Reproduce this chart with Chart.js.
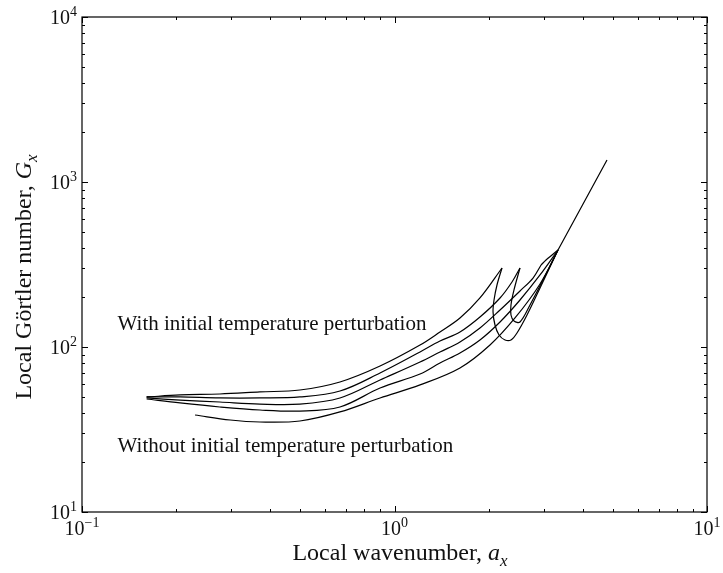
<!DOCTYPE html>
<html><head><meta charset="utf-8">
<script src="https://cdn.jsdelivr.net/npm/chart.js@4.4.0/dist/chart.umd.min.js"></script>
<style>html,body{margin:0;padding:0;background:#fff;}#wrap{width:723px;height:573px;}</style>
</head><body><div id="wrap"><canvas id="c" width="723" height="573"></canvas></div>
<script>
// ---- tick labels / titles ----
const xTickValues = [0.1, 1, 10];
const xTickExponents = ['\u22121', '0', '1'];
const yTickValues = [10, 100, 1000, 10000];
const yTickExponents = ['1', '2', '3', '4'];
const xTitleText = 'Local wavenumber, ';
const xTitleVar = 'a';
const xTitleSub = 'x';
const yTitleText = 'Local G\u00f6rtler number, ';
const yTitleVar = 'G';
const yTitleSub = 'x';
const labelWith = 'With initial temperature perturbation';
const labelWithout = 'Without initial temperature perturbation';
const labelWithPos = [0.130, 136];
const labelWithoutPos = [0.130, 24.8];

// ---- curve data (a_x, G_x) ----
const c1Up_a = [0.161, 0.206, 0.276, 0.371, 0.498, 0.669, 0.899, 1.207, 1.398, 1.620, 1.877, 2.208];
const c1Up_G = [49.8, 51.2, 51.9, 53.4, 54.9, 61.4, 76.7, 102.8, 123.3, 149.9, 198.2, 301.2];
const c1Loop_a = [2.208, 2.128, 2.082, 2.067, 2.097, 2.160, 2.258, 2.359, 2.466, 2.655, 2.922, 3.336];
const c1Loop_G = [301.2, 237.6, 192.7, 163.0, 135.9, 118.2, 110.3, 110.3, 121.6, 156.3, 227.9, 387.1];
const c2Up_a = [0.161, 0.206, 0.276, 0.371, 0.498, 0.669, 0.899, 1.207, 1.398, 1.620, 1.877, 2.176, 2.377, 2.521];
const c2Up_G = [49.8, 49.8, 49.1, 49.1, 49.8, 54.1, 69.6, 93.3, 108.7, 123.3, 152.0, 198.2, 247.7, 301.2];
const c2Loop_a = [2.521, 2.412, 2.359, 2.359, 2.412, 2.521, 2.714, 3.032, 3.336];
const c2Loop_G = [301.2, 221.6, 179.7, 156.3, 143.7, 141.8, 179.7, 269.4, 387.1];
const c3Up_a = [0.161, 0.206, 0.276, 0.371, 0.498, 0.669, 0.899, 1.207, 1.398, 1.620, 1.877, 2.176, 2.521, 2.775, 2.944];
const c3Up_G = [49.1, 47.7, 46.4, 45.1, 45.1, 49.1, 63.1, 81.1, 93.3, 107.2, 130.4, 167.6, 218.6, 261.9, 314.1];
const c3End_a = [2.944, 3.054, 3.192, 3.336];
const c3End_G = [314.1, 336.7, 361.0, 387.1];
const c4_a = [0.161, 0.206, 0.276, 0.371, 0.498, 0.669, 0.899, 1.207, 1.398, 1.620, 1.877, 2.176, 2.521, 2.922, 3.336];
const c4_G = [48.4, 45.8, 43.3, 41.5, 40.9, 43.3, 56.4, 68.6, 80.0, 92.0, 110.3, 141.8, 192.7, 273.2, 387.1];
const c5_a = [0.230, 0.298, 0.371, 0.498, 0.669, 0.899, 1.207, 1.620, 2.021, 2.430, 2.922, 3.336];
const c5_G = [38.7, 36.1, 35.1, 35.6, 40.4, 49.1, 58.9, 74.6, 102.8, 149.9, 240.9, 387.1];
const common_a = [3.336, 4.786];
const common_G = [387.1, 1358];

const segments = [
  [c1Up_a, c1Up_G], [c1Loop_a, c1Loop_G],
  [c2Up_a, c2Up_G], [c2Loop_a, c2Loop_G],
  [c3Up_a, c3Up_G], [c3End_a, c3End_G],
  [c4_a, c4_G], [c5_a, c5_G], [common_a, common_G]
];

const FONT = '"Liberation Serif", "Times New Roman", serif';

const datasets = segments.map(([xs, ys]) => ({
  data: xs.map((x, i) => ({x: x, y: ys[i]})),
  showLine: true, pointRadius: 0, borderColor: '#000', borderWidth: 1.2,
  tension: 0.35, fill: false
}));

function drawSubTitle(ctx, x, y, main, v, sub, size) {
  ctx.font = size + 'px ' + FONT;
  const w1 = ctx.measureText(main).width;
  ctx.font = 'italic ' + size + 'px ' + FONT;
  const w2 = ctx.measureText(v).width;
  const ss = Math.round(size * 0.7);
  ctx.font = 'italic ' + ss + 'px ' + FONT;
  const w3 = ctx.measureText(sub).width;
  let sx = x - (w1 + w2 + w3) / 2;
  ctx.textAlign = 'left'; ctx.textBaseline = 'alphabetic';
  ctx.font = size + 'px ' + FONT; ctx.fillText(main, sx, y); sx += w1;
  ctx.font = 'italic ' + size + 'px ' + FONT; ctx.fillText(v, sx, y); sx += w2;
  ctx.font = 'italic ' + ss + 'px ' + FONT; ctx.fillText(sub, sx, y + size * 0.25);
}

const framePlugin = {
  id: 'frame',
  afterDraw(chart) {
    const ctx = chart.ctx, a = chart.chartArea;
    const xs = chart.scales.x, ys = chart.scales.y;
    ctx.save();
    ctx.strokeStyle = '#000'; ctx.fillStyle = '#111';
    ctx.lineWidth = 1.2;
    ctx.strokeRect(a.left, a.top, a.right - a.left, a.bottom - a.top);
    ctx.lineWidth = 1;
    const tick = (isX, v, len) => {
      if (isX) {
        const p = Math.round(xs.getPixelForValue(v)) + 0.5;
        ctx.beginPath(); ctx.moveTo(p, a.bottom); ctx.lineTo(p, a.bottom - len);
        ctx.moveTo(p, a.top); ctx.lineTo(p, a.top + len); ctx.stroke();
      } else {
        const p = Math.round(ys.getPixelForValue(v)) + 0.5;
        ctx.beginPath(); ctx.moveTo(a.left, p); ctx.lineTo(a.left + len, p);
        ctx.moveTo(a.right, p); ctx.lineTo(a.right - len, p); ctx.stroke();
      }
    };
    for (let i = 0; i < xTickValues.length; i++) {
      const d = xTickValues[i];
      tick(true, d, 6);
      if (i < xTickValues.length - 1) for (let k = 2; k <= 9; k++) tick(true, d * k, 3);
    }
    for (let i = 0; i < yTickValues.length; i++) {
      const d = yTickValues[i];
      tick(false, d, 6);
      if (i < yTickValues.length - 1) for (let k = 2; k <= 9; k++) tick(false, d * k, 3);
    }
    const big = 20, small = 14;
    xTickValues.forEach((v, i) => {
      const p = xs.getPixelForValue(v);
      ctx.font = big + 'px ' + FONT; const w1 = ctx.measureText('10').width;
      ctx.font = small + 'px ' + FONT; const w2 = ctx.measureText(xTickExponents[i]).width;
      let sx = p - (w1 + w2) / 2;
      const by = a.bottom + 23;
      ctx.textAlign = 'left'; ctx.textBaseline = 'alphabetic';
      ctx.font = big + 'px ' + FONT; ctx.fillText('10', sx, by);
      ctx.font = small + 'px ' + FONT; ctx.fillText(xTickExponents[i], sx + w1, by - 8);
    });
    yTickValues.forEach((v, i) => {
      const p = ys.getPixelForValue(v);
      ctx.font = small + 'px ' + FONT; const w2 = ctx.measureText(yTickExponents[i]).width;
      ctx.font = big + 'px ' + FONT; const w1 = ctx.measureText('10').width;
      const ex = a.left - 5 - w2;
      const by = p + 7;
      ctx.textAlign = 'left'; ctx.textBaseline = 'alphabetic';
      ctx.fillText('10', ex - w1, by);
      ctx.font = small + 'px ' + FONT; ctx.fillText(yTickExponents[i], ex, by - 8);
    });
    drawSubTitle(ctx, 400, 560, xTitleText, xTitleVar, xTitleSub, 24);
    ctx.save();
    ctx.translate(31, 277);
    ctx.rotate(-Math.PI / 2);
    drawSubTitle(ctx, 0, 0, yTitleText, yTitleVar, yTitleSub, 24);
    ctx.restore();
    ctx.font = '21px ' + FONT; ctx.textAlign = 'left'; ctx.textBaseline = 'middle';
    ctx.fillText(labelWith, xs.getPixelForValue(labelWithPos[0]), ys.getPixelForValue(labelWithPos[1]));
    ctx.fillText(labelWithout, xs.getPixelForValue(labelWithoutPos[0]), ys.getPixelForValue(labelWithoutPos[1]));
    ctx.restore();
  }
};

new Chart(document.getElementById('c'), {
  type: 'scatter',
  data: { datasets },
  options: {
    responsive: false, animation: false, devicePixelRatio: 1,
    layout: { padding: { left: 82, right: 16, top: 17, bottom: 61 } },
    plugins: { legend: { display: false }, tooltip: { enabled: false } },
    scales: {
      x: { type: 'logarithmic', min: 0.1, max: 10, display: false },
      y: { type: 'logarithmic', min: 10, max: 10000, display: false }
    }
  },
  plugins: [framePlugin]
});
</script></body></html>
